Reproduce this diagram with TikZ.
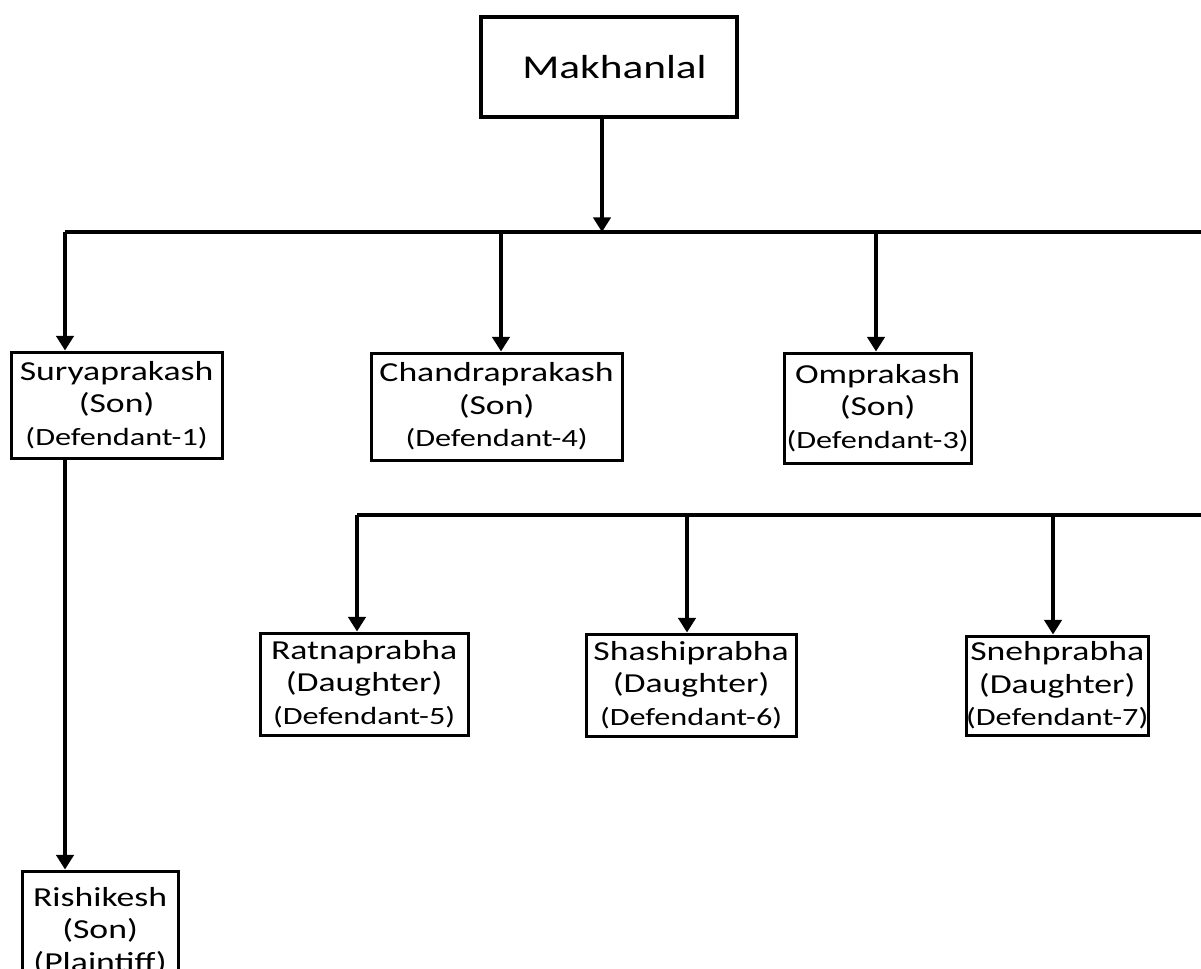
\documentclass[tikz,border=0pt]{standalone}
\usepackage{fontspec}
\setmainfont{Carlito}[FakeStretch=1.3]
\usetikzlibrary{arrows.meta}

\tikzset{
	person/.style={draw, line width=2.4pt, inner sep=0pt, anchor=north west, align=center,
		font=\fontsize{20.6}{24.4}\selectfont},
	link/.style={line width=2.6pt},
	arr/.style={link, -{Triangle[width=13pt,length=11pt]}}
}
\newcommand{\dfn}[1]{{\fontsize{18.6}{24.4}\selectfont #1}}

\begin{document}
\begin{tikzpicture}[x=0.75pt,y=0.75pt,yscale=-1,xscale=1]
			\useasboundingbox (0,0) rectangle (1201,968);
			\clip (0,0) rectangle (1201,968);
			
			% Boxes
			\node [person, line width=3.2pt, minimum width=192pt, minimum height=75pt, font=\fontsize{25}{29}\selectfont] (mak) at (479,15) {\hspace{8pt}Makhanlal};
			\node [person, minimum width=158.25pt, minimum height=79.5pt] (surya) at (9.5,350.5) {Suryaprakash\\(Son)\\\dfn{(Defendant-1)}};
			\node [person, minimum width=188.25pt, minimum height=80.25pt] (chandra) at (369.5,351.5) {Chandraprakash\\(Son)\\\dfn{(Defendant-4)}};
			\node [person, minimum width=140.25pt, minimum height=82.5pt] (om) at (782.5,351.5) {Omprakash\\(Son)\\\dfn{(Defendant-3)}};
			\node [person, minimum width=156pt, minimum height=76.5pt] (ratna) at (258.5,631.5) {Ratnaprabha\\(Daughter)\\\dfn{(Defendant-5)}};
			\node [person, minimum width=157.5pt, minimum height=76.5pt] (shashi) at (584.5,632.5) {Shashiprabha\\(Daughter)\\\dfn{(Defendant-6)}};
			\node [person, minimum width=133.5pt, minimum height=74.25pt] (sneh) at (964.5,634.5) {Snehprabha\\(Daughter)\\\dfn{(Defendant-7)}};
			\node [person, minimum width=117pt, minimum height=90pt] (rishi) at (20.5,869.5) {Rishikesh\\(Son)\\(Plaintiff)};
			
			% Bus points
			\coordinate (topm) at (602,232);
			\coordinate (topl) at (65,232);
			\coordinate (topc) at (501,232);
			\coordinate (topo) at (876,232);
			\coordinate (topr) at (1215,232);
			\coordinate (midl) at (357,515);
			\coordinate (mids) at (687,515);
			\coordinate (midn) at (1053,515);
			\coordinate (midr) at (1215,515);
			
			% Buses
			\draw [link] (topl) -- (topr);
			\draw [link] (midl) -- (midr);
			
			% Arrows
			\draw [arr] (mak.south -| topm) -- (topm);
			\draw [arr] (topl) -- (surya.north -| topl);
			\draw [arr] (topc) -- (chandra.north -| topc);
			\draw [arr] (topo) -- (om.north -| topo);
			\draw [arr] (surya.south -| topl) -- (rishi.north -| topl);
			\draw [arr] (midl) -- (ratna.north -| midl);
			\draw [arr] (mids) -- (shashi.north -| mids);
			\draw [arr] (midn) -- (sneh.north -| midn);
			
		\end{tikzpicture}
\end{document}
